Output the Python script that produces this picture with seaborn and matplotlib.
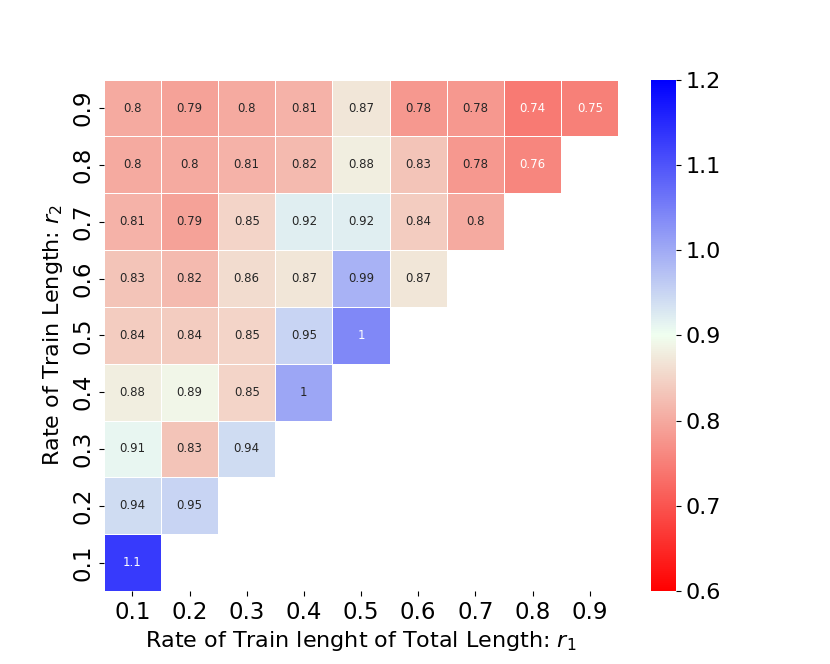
import numpy as np
import pandas as pd
import matplotlib
matplotlib.use('Agg')
import matplotlib.pyplot as plt
import seaborn as sns
from matplotlib.colors import LinearSegmentedColormap

# r1 along x, r2 along y (top row is r2 = 0.9)
r1_labels = ['0.1', '0.2', '0.3', '0.4', '0.5', '0.6', '0.7', '0.8', '0.9']
r2_labels = ['0.9', '0.8', '0.7', '0.6', '0.5', '0.4', '0.3', '0.2', '0.1']

# ratio values per r2 row, read left to right (only r1 <= r2 exists)
row_09 = [0.80, 0.79, 0.80, 0.81, 0.87, 0.78, 0.78, 0.744, 0.752]
row_08 = [0.80, 0.80, 0.81, 0.82, 0.88, 0.83, 0.78, 0.758]
row_07 = [0.81, 0.79, 0.85, 0.92, 0.92, 0.84, 0.80]
row_06 = [0.83, 0.82, 0.86, 0.87, 0.99, 0.87]
row_05 = [0.84, 0.84, 0.85, 0.95, 1.04]
row_04 = [0.88, 0.89, 0.85, 1.005]
row_03 = [0.91, 0.83, 0.94]
row_02 = [0.94, 0.95]
row_01 = [1.13]

rows = [row_09, row_08, row_07, row_06, row_05, row_04, row_03, row_02, row_01]
grid = np.full((9, 9), np.nan)
for i, vals in enumerate(rows):
    grid[i, :len(vals)] = vals
df = pd.DataFrame(grid, index=r2_labels, columns=r1_labels)

cmap = LinearSegmentedColormap.from_list('rwb', ['red', 'honeydew', 'blue'])

fig = plt.figure(figsize=(8.3, 6.64), dpi=100)
ax = sns.heatmap(df, mask=df.isnull(), cmap=cmap, vmin=0.6, vmax=1.2,
                 annot=True, fmt='.2g', annot_kws={'size': 8.5},
                 linewidths=0.5, linecolor='white')

ax.set_xlabel('Rate of Train lenght of Total Length: $r_1$', fontsize=16)
ax.set_ylabel('Rate of Train Length: $r_2$', fontsize=16)
ax.tick_params(axis='both', labelsize=16.5)
plt.setp(ax.get_yticklabels(), rotation=90, va='center')
plt.setp(ax.get_xticklabels(), rotation=0)

cbar = ax.collections[0].colorbar
cbar.ax.tick_params(labelsize=16)
cbar.set_ticks([0.6, 0.7, 0.8, 0.9, 1.0, 1.1, 1.2])

plt.savefig('out.png', dpi=100)
